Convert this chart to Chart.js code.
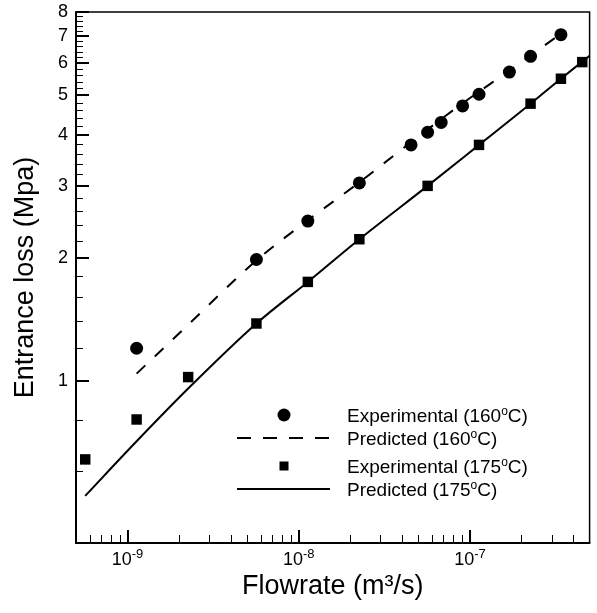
<!DOCTYPE html>
<html><head><meta charset="utf-8">
<script src="https://cdn.jsdelivr.net/npm/chart.js@4/dist/chart.umd.min.js"></script>
<style>html,body{margin:0;padding:0;background:#fff;} canvas{display:block;}</style>
</head><body>
<canvas id="c" width="597" height="613"></canvas>
<script>
const FONT = '"Liberation Sans", Arial, Helvetica, sans-serif';

// ---- data ----
const flowExp160 = [1.13e-9, 5.66e-9, 1.13e-8, 2.26e-8, 4.53e-8, 5.66e-8, 6.79e-8, 9.06e-8, 1.13e-7, 1.70e-7, 2.26e-7, 3.40e-7];
const lossExp160 = [1.20, 1.98, 2.46, 3.05, 3.78, 4.06, 4.29, 4.71, 5.03, 5.70, 6.23, 7.04];

const flowPred160 = [1.13e-9, 2.26e-9, 5.66e-9, 1.13e-8, 2.26e-8, 4.53e-8, 9.06e-8, 1.70e-7, 3.40e-7];
const lossPred160 = [1.04, 1.37, 1.97, 2.47, 3.06, 3.84, 4.78, 5.75, 7.08];

const flowExp175 = [5.66e-10, 1.13e-9, 2.26e-9, 5.66e-9, 1.13e-8, 2.26e-8, 5.66e-8, 1.13e-7, 2.26e-7, 3.40e-7, 4.53e-7];
const lossExp175 = [0.641, 0.803, 1.02, 1.38, 1.745, 2.22, 3.00, 3.78, 4.77, 5.49, 6.03];

const flowPred175 = [5.66e-10, 1.13e-9, 2.26e-9, 5.66e-9, 1.13e-8, 2.26e-8, 5.66e-8, 1.13e-7, 2.26e-7, 3.40e-7, 5.0e-7];
const lossPred175 = [0.522, 0.710, 0.956, 1.38, 1.745, 2.22, 3.00, 3.78, 4.77, 5.49, 6.25];

const seriesLabels = ['Experimental (160°C)', 'Predicted (160°C)', 'Experimental (175°C)', 'Predicted (175°C)'];

// ---- axes / ticks ----
const xMin = 5e-10, xMax = 5e-7;
const yMin = 0.4, yMax = 8;
const yMajorTicks = [1, 2, 3, 4, 5, 6, 7, 8];
const xMajorExponents = [-9, -8, -7];
const xTitle = 'Flowrate (m³/s)';
const yTitle = 'Entrance loss (Mpa)';

const yMinorTicks = [];
for (let v = 0.6; v < 8; v += 0.2) {
  const r = Math.round(v * 10) / 10;
  if (Math.abs(r - Math.round(r)) > 1e-6) yMinorTicks.push(r);
}
const xMinorTicks = [];
for (let e = -10; e <= -7; e++) {
  for (let m = 2; m <= 9; m++) {
    const v = m * Math.pow(10, e);
    if (v > xMin * 1.01 && v < xMax * 0.99) xMinorTicks.push(v);
  }
}

const pts = (xs, ys) => xs.map((x, i) => ({x: x, y: ys[i]}));

const decorPlugin = {
  id: 'decor',
  afterDraw(chart) {
    const ctx = chart.ctx;
    const {left, right, top, bottom} = chart.chartArea;
    const xs = chart.scales.x, ys = chart.scales.y;
    ctx.save();
    ctx.strokeStyle = '#000';
    ctx.fillStyle = '#000';
    // frame
    ctx.lineWidth = 1.5;
    ctx.beginPath();
    ctx.moveTo(left, top); ctx.lineTo(right, top); ctx.lineTo(right, bottom);
    ctx.stroke();
    ctx.lineWidth = 2;
    ctx.beginPath();
    ctx.moveTo(left, top - 0.75); ctx.lineTo(left, bottom); ctx.lineTo(right + 0.75, bottom);
    ctx.stroke();
    // y ticks
    yMajorTicks.forEach(v => {
      const y = Math.round(ys.getPixelForValue(v));
      ctx.lineWidth = 2;
      ctx.beginPath(); ctx.moveTo(left, y); ctx.lineTo(left + 13, y); ctx.stroke();
    });
    yMinorTicks.forEach(v => {
      const y = Math.round(ys.getPixelForValue(v)) + 0.5;
      ctx.lineWidth = 1;
      ctx.beginPath(); ctx.moveTo(left, y); ctx.lineTo(left + 7, y); ctx.stroke();
    });
    // x ticks
    xMajorExponents.forEach(e => {
      const x = Math.round(xs.getPixelForValue(Math.pow(10, e)));
      ctx.lineWidth = 2;
      ctx.beginPath(); ctx.moveTo(x, bottom); ctx.lineTo(x, bottom - 13); ctx.stroke();
    });
    xMinorTicks.forEach(v => {
      const x = Math.round(xs.getPixelForValue(v)) + 0.5;
      ctx.lineWidth = 1;
      ctx.beginPath(); ctx.moveTo(x, bottom); ctx.lineTo(x, bottom - 8); ctx.stroke();
    });
    // x tick labels 10^e
    xMajorExponents.forEach(e => {
      const x = xs.getPixelForValue(Math.pow(10, e));
      ctx.font = '18px ' + FONT;
      const wb = ctx.measureText('10').width;
      ctx.font = '13px ' + FONT;
      const sup = String(e);
      const ws = ctx.measureText(sup).width;
      const x0 = x - (wb + ws) / 2;
      ctx.textAlign = 'left'; ctx.textBaseline = 'alphabetic';
      ctx.font = '18px ' + FONT;
      ctx.fillText('10', x0, bottom + 22);
      ctx.font = '13px ' + FONT;
      ctx.fillText(sup, x0 + wb, bottom + 15);
    });
    // legend
    const lx0 = 237, lx1 = 330, mx = 284, tx = 347;
    const rows = [415, 438, 466, 489];
    const drawLabel = (text, y) => {
      const parts = text.split('°');
      ctx.textAlign = 'left'; ctx.textBaseline = 'alphabetic';
      ctx.font = '19px ' + FONT;
      ctx.fillText(parts[0], tx, y + 7);
      let w = ctx.measureText(parts[0]).width;
      ctx.font = '12px ' + FONT;
      ctx.fillText('o', tx + w, y - 0.5);
      w += ctx.measureText('o').width;
      ctx.font = '19px ' + FONT;
      ctx.fillText(parts[1], tx + w, y + 7);
    };
    ctx.beginPath(); ctx.arc(mx, rows[0], 6.5, 0, Math.PI * 2); ctx.fill();
    drawLabel(seriesLabels[0], rows[0]);
    ctx.lineWidth = 2; ctx.setLineDash([14, 12]);
    ctx.beginPath(); ctx.moveTo(lx0, rows[1]); ctx.lineTo(lx1, rows[1]); ctx.stroke();
    ctx.setLineDash([]);
    drawLabel(seriesLabels[1], rows[1]);
    ctx.fillRect(mx - 4.5, rows[2] - 4.5, 9, 9);
    drawLabel(seriesLabels[2], rows[2]);
    ctx.beginPath(); ctx.moveTo(lx0, rows[3]); ctx.lineTo(lx1, rows[3]); ctx.stroke();
    drawLabel(seriesLabels[3], rows[3]);
    ctx.restore();
  }
};

new Chart(document.getElementById('c'), {
  type: 'scatter',
  data: {
    datasets: [
      { label: seriesLabels[0], data: pts(flowExp160, lossExp160), showLine: false,
        pointStyle: 'circle', pointRadius: 6.5, pointBackgroundColor: '#000', pointBorderColor: '#000', pointBorderWidth: 0 },
      { label: seriesLabels[2], data: pts(flowExp175, lossExp175), showLine: false,
        pointStyle: 'rect', pointRadius: 7.4, pointBackgroundColor: '#000', pointBorderColor: '#000', pointBorderWidth: 0 },
      { label: seriesLabels[1], data: pts(flowPred160, lossPred160), showLine: true, pointRadius: 0,
        borderColor: '#000', borderWidth: 2, borderDash: [12, 13], cubicInterpolationMode: 'monotone', fill: false },
      { label: seriesLabels[3], data: pts(flowPred175, lossPred175), showLine: true, pointRadius: 0,
        borderColor: '#000', borderWidth: 2, cubicInterpolationMode: 'monotone', fill: false }
    ]
  },
  options: {
    responsive: false,
    animation: false,
    devicePixelRatio: 1,
    clip: false,
    layout: { padding: { top: 12, right: 4, left: 0, bottom: 0 } },
    plugins: { legend: { display: false }, tooltip: { enabled: false } },
    scales: {
      x: {
        type: 'logarithmic', min: xMin, max: xMax,
        grid: { display: false }, border: { display: false },
        ticks: { display: false },
        afterBuildTicks: s => { s.ticks = xMajorExponents.map(e => ({value: Math.pow(10, e)})); },
        afterFit: s => { s.height = 70; s.paddingLeft = 0; s.paddingRight = 0; },
        title: { display: true, text: xTitle, color: '#000', font: { family: FONT, size: 27 }, padding: { top: 0, bottom: 10 } }
      },
      y: {
        type: 'logarithmic', min: yMin, max: yMax,
        grid: { display: false, drawTicks: false }, border: { display: false },
        afterBuildTicks: s => { s.ticks = yMajorTicks.map(v => ({value: v})); },
        afterFit: s => { s.width = 76; s.paddingTop = 0; s.paddingBottom = 0; },
        ticks: { color: '#000', font: { family: FONT, size: 18 }, padding: 8,
                 callback: v => yMajorTicks.includes(v) ? String(v) : '' },
        title: { display: true, text: yTitle, color: '#000', font: { family: FONT, size: 27 }, padding: { top: 9, bottom: 0 } }
      }
    }
  },
  plugins: [decorPlugin]
});
</script>
</body></html>
